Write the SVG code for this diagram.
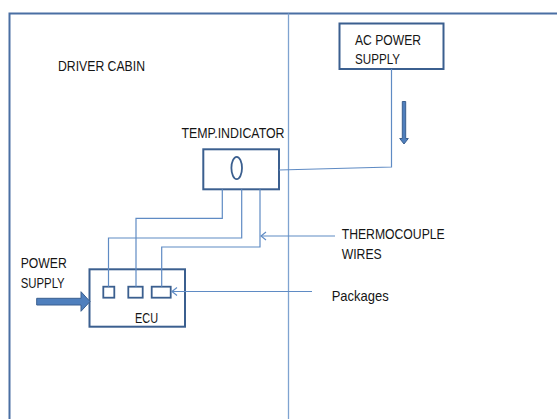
<svg xmlns="http://www.w3.org/2000/svg" width="557" height="419" viewBox="0 0 557 419">
<style>
text{font-family:"Liberation Sans",Arial,sans-serif;font-size:15px;fill:#151515}
.box{fill:#fff;stroke:#3b5f8f;stroke-width:2}
.sq{fill:#fff;stroke:#3b5f8f;stroke-width:1.8}
.wire{fill:none;stroke:#5f8bc4;stroke-width:1.2}
.frame{fill:none;stroke:#4a6fa3;stroke-width:2}
.div{fill:none;stroke:#7fa3d0;stroke-width:1.3}
.thick{fill:#4f7fbd;stroke:#3b5f8f;stroke-width:1}
</style>
<defs>
<marker id="open" markerWidth="12" markerHeight="12" refX="9" refY="5" orient="auto" markerUnits="userSpaceOnUse">
<path d="M4,1 L9,5 L4,9" fill="none" stroke="#5f8bc4" stroke-width="1.2"/>
</marker>
</defs>
<rect width="557" height="419" fill="#fff"/>
<g id="frame">
<path class="frame" d="M9.5,419 L9.5,13.5 L557,13.5"/>
<path class="div" d="M288.5,13.5 L288.5,419"/>
</g>
<g id="driver-cabin"><text x="58" y="71" textLength="87" lengthAdjust="spacingAndGlyphs">DRIVER CABIN</text></g>
<g id="ac-power-supply">
<rect class="box" x="339.5" y="23.5" width="104" height="45.5"/>
<text x="355" y="45" textLength="66" lengthAdjust="spacingAndGlyphs">AC POWER</text>
<text x="355" y="64" textLength="45" lengthAdjust="spacingAndGlyphs">SUPPLY</text>
</g>
<g id="temp-indicator">
<text x="181.5" y="138" textLength="103" lengthAdjust="spacingAndGlyphs">TEMP.INDICATOR</text>
<rect class="box" x="203.3" y="149.3" width="75.7" height="40"/>
<ellipse cx="236.7" cy="168" rx="5.3" ry="11.2" fill="none" stroke="#3b5f8f" stroke-width="1.8"/>
</g>
<g id="ecu">
<rect class="box" x="89.5" y="269.3" width="95.5" height="57.4"/>
<rect class="sq" x="103.3" y="286.7" width="11" height="11"/>
<rect class="sq" x="128.3" y="286.7" width="14.4" height="11"/>
<rect class="sq" x="151.7" y="286.7" width="19" height="11"/>
<text x="135" y="322.5" textLength="23" lengthAdjust="spacingAndGlyphs">ECU</text>
</g>
<g id="power-supply">
<text x="20.7" y="267.5" textLength="46" lengthAdjust="spacingAndGlyphs">POWER</text>
<text x="20.7" y="288" textLength="44" lengthAdjust="spacingAndGlyphs">SUPPLY</text>
</g>
<g id="thermocouple-label">
<text x="341.7" y="239" textLength="103" lengthAdjust="spacingAndGlyphs">THERMOCOUPLE</text>
<text x="341.7" y="259" textLength="40" lengthAdjust="spacingAndGlyphs">WIRES</text>
</g>
<g id="packages-label">
<text x="331.7" y="301" textLength="57" lengthAdjust="spacingAndGlyphs">Packages</text>
</g>
<g id="connectors">
<path class="wire" d="M391.5,69 L391.5,167 L279,170"/>
<path class="wire" d="M222.3,189.3 L222.3,218.3 L136,218.3 L136,286.7"/>
<path class="wire" d="M241.7,189.3 L241.7,238 L108.5,238 L108.5,286.7"/>
<path class="wire" d="M260,189.3 L260,247 L161.7,247 L161.7,286.7"/>
<path class="wire" d="M335,236 L261,236" marker-end="url(#open)"/>
<path class="wire" d="M312,291.5 L172,291.5" marker-end="url(#open)"/>
<path class="thick" d="M402.3,101.5 L405.7,101.5 L405.7,138.5 L408.3,138.5 L404,144 L399.7,138.5 L402.3,138.5 Z"/>
<path class="thick" d="M36.7,298.3 L81,298.3 L81,291.7 L90,301.5 L81,311.3 L81,305 L36.7,305 Z"/>
</g>
</svg>
